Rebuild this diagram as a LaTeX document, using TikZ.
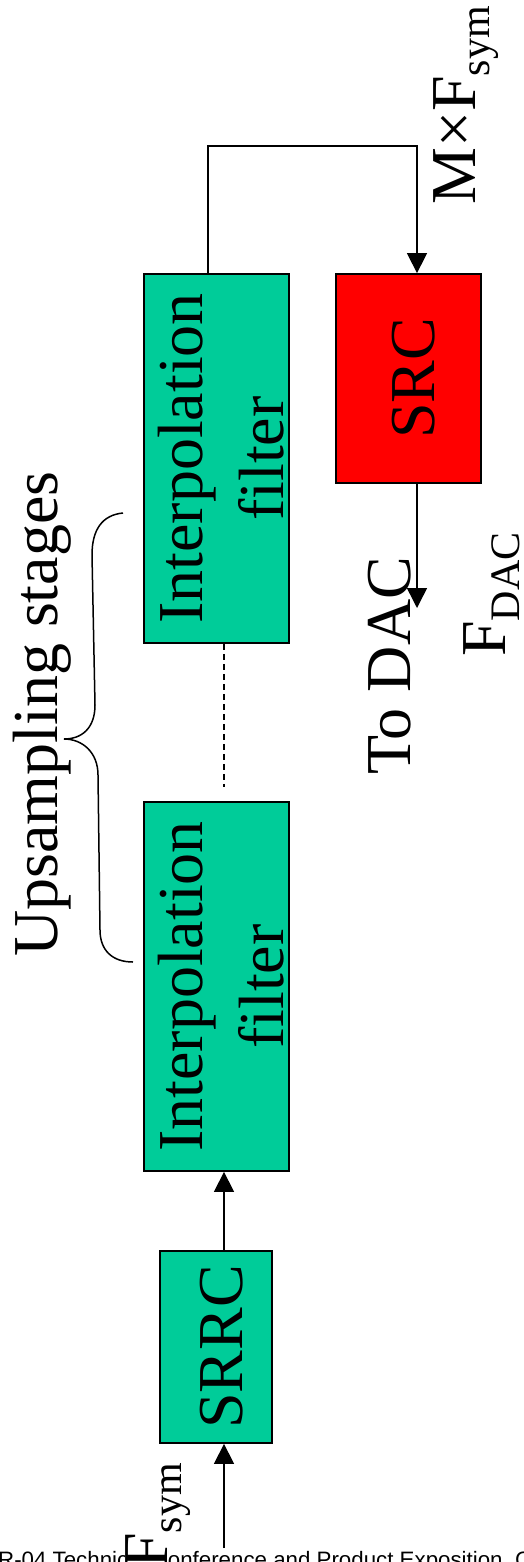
\documentclass[tikz,border=0pt]{standalone}
\usepackage{fontspec}
\setmainfont{Liberation Serif}
\newfontfamily\footfont{Liberation Sans}
\usetikzlibrary{arrows.meta}
\definecolor{boxgreen}{RGB}{0,204,153}
\definecolor{boxred}{RGB}{255,0,0}
\newcommand{\subtxt}[1]{\raisebox{-14pt}{\fontsize{42}{42}\selectfont #1}}
\begin{document}
\begin{tikzpicture}[x=1pt,y=-1pt,
  blk/.style={draw=black, line width=1.8pt, fill=boxgreen, inner sep=0pt, rotate=90,
    align=center, text height=52pt, text depth=0pt, font=\fontsize{64}{81}\selectfont},
  twoline/.style={text height=133pt},
  con/.style={line width=1.5pt, -{Triangle[width=20pt,length=20pt]}},
  plain/.style={line width=1.5pt},
  lab/.style={rotate=90, inner sep=0pt, font=\fontsize{64}{70}\selectfont}
]
\useasboundingbox (0,0) rectangle (523,1562);
\clip (0,0) rectangle (523,1562);
\fill[white] (0,0) rectangle (523,1562);

% footer (cut off by the page edge)
\node[anchor=base west, inner sep=0pt, font=\footfont\fontsize{22.3}{24}\selectfont] (foot) at (-33,1567)
  {SDR-04 Technical Conference and Product Exposition, Copyright 2004};

% blocks
\node[blk, minimum width=192pt, minimum height=112pt] (srrc) at (216,1347) {SRRC};
\node[blk, twoline, minimum width=369pt, minimum height=145pt] (interp1) at (216.5,986.5) {Interpolation\\filter};
\node[blk, twoline, minimum width=369pt, minimum height=145pt] (interp2) at (216.5,458.5) {Interpolation\\filter};
\node[blk, fill=boxred, minimum width=209pt, minimum height=145pt] (src) at (408.5,378.5) {SRC};

% connector points
\coordinate (in) at (224,1548);
\coordinate (dashend) at (224,787);
\coordinate (fbL) at (208,146);
\coordinate (fbR) at (417,146);
\coordinate (out) at (417,608);

% connectors
\draw[con] (in) -- (in |- srrc.west);
\draw[con] (in |- srrc.east) -- (in |- interp1.west);
\draw[plain, line width=1.8pt, dash pattern=on 6pt off 4pt] (in |- interp2.west) -- (dashend);
\draw[con] (fbL |- interp2.east) -- (fbL) -- (fbR) -- (fbR |- src.east);
\draw[con] (fbR |- src.west) -- (out);

% labels
\node[lab, anchor=base west, fill=white, text depth=0pt] (fsym) at (167,1569) {F\subtxt{sym}};
\node[lab, anchor=base west] (mfsym) at (475,205) {M×F\subtxt{sym}};
\node[lab, anchor=base west] (todac) at (410,775) {To DAC};
\node[lab, anchor=base west] (fdac) at (505,657) {F\subtxt{DAC}};
\node[lab, anchor=base west] (ups) at (57,957) {Upsampling stages};

% brace
\draw[plain] (123,513) .. controls (102,515) and (92,530) .. (92,555)
  -- (95,705) .. controls (95,728) and (82,739) .. (64,739)
  .. controls (82,739) and (98,752) .. (98,775)
  -- (100,930) .. controls (100,950) and (112,962) .. (133,962);
\end{tikzpicture}
\end{document}
